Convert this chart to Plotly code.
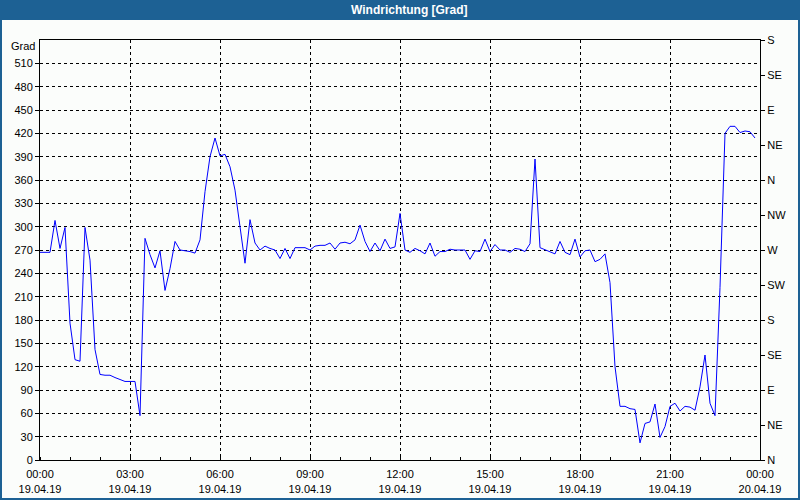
import plotly.graph_objects as go
import pandas as pd

# 10-minute samples, 19.04.19 00:00 .. 23:50
times = pd.date_range("2019-04-19 00:00", periods=144, freq="10min")

wind_dir = [
    267, 267, 267, 308, 272, 299, 176, 129, 127, 299,
    257, 142, 110, 109, 109, 106, 103, 101, 101, 101,
    57, 285, 264, 247, 269, 218, 246, 281, 270, 269,
    268, 266, 283, 345, 390, 414, 391, 393, 377, 347,
    300, 253, 309, 279, 270, 275, 272, 270, 259, 272,
    259, 273, 273, 273, 270, 275, 276, 276, 279, 271,
    279, 280, 278, 283, 302, 281, 268, 279, 269, 284,
    272, 274, 317, 270, 267, 272, 269, 265, 279, 262,
    268, 268, 271, 270, 270, 270, 258, 269, 268, 284,
    268, 277, 270, 270, 267, 272, 271, 268, 278, 387,
    273, 270, 267, 265, 281, 267, 264, 284, 261, 269,
    270, 255, 258, 265, 228, 120, 69, 69, 66, 65,
    22, 47, 49, 72, 29, 43, 69, 73, 63, 69,
    68, 64, 94, 135, 73, 57, 222, 420, 429, 429,
    421, 423, 422, 414,
]

y_ticks = list(range(0, 540, 30))
compass_vals = list(range(0, 541, 45))
compass_labels = ["N", "NE", "E", "SE", "S", "SW", "W", "NW", "N", "NE", "E", "SE", "S"]
x_tickvals = ["2019-04-19 00:00", "2019-04-19 03:00", "2019-04-19 06:00", "2019-04-19 09:00",
              "2019-04-19 12:00", "2019-04-19 15:00", "2019-04-19 18:00", "2019-04-19 21:00",
              "2019-04-20 00:00"]
x_ticktext = ["00:00<br>19.04.19", "03:00<br>19.04.19", "06:00<br>19.04.19", "09:00<br>19.04.19",
              "12:00<br>19.04.19", "15:00<br>19.04.19", "18:00<br>19.04.19", "21:00<br>19.04.19",
              "00:00<br>20.04.19"]

BG = "#fbfdfb"
BLUE_BAR = "#1d6194"
FONT = "Liberation Sans"

fig = go.Figure()
fig.add_trace(go.Scatter(x=times, y=wind_dir, mode="lines",
                         line=dict(color="#0000ff", width=1), showlegend=False))
# invisible trace for the right axis
fig.add_trace(go.Scatter(x=[times[0]], y=[0], yaxis="y2", mode="lines",
                         line=dict(width=0), showlegend=False, hoverinfo="skip"))

W, H = 800, 500
L, R, T, B = 40, 40, 40, 40
pw, ph = W - L - R, H - T - B

def px_x(p):
    return (p - L) / pw

def px_y(p):
    return (H - B - p) / ph

fig.update_layout(
    width=W, height=H,
    margin=dict(l=L, r=R, t=T, b=B, autoexpand=False),
    paper_bgcolor=BG, plot_bgcolor=BG,
    font=dict(family=FONT, size=11, color="black"),
    xaxis=dict(
        type="date",
        range=["2019-04-19 00:00", "2019-04-20 00:00"],
        tickvals=x_tickvals, ticktext=x_ticktext,
        ticks="", showgrid=True, gridcolor="black", griddash="3px,3px", gridwidth=1,
        showline=True, linecolor="black", linewidth=1, mirror=True,
        zeroline=False, tickfont=dict(size=11), ticklabelstandoff=4,
        minor=dict(dtick=3600000, tick0="2019-04-19 00:00", ticks="inside",
                   ticklen=3, tickcolor="black", showgrid=False),
    ),
    yaxis=dict(
        range=[0, 540], tickvals=y_ticks, ticktext=[str(v) for v in y_ticks],
        ticks="outside", ticklen=4, tickcolor="black",
        showgrid=True, gridcolor="black", griddash="3px,3px", gridwidth=1,
        showline=True, linecolor="black", linewidth=1, mirror=True,
        zeroline=False, tickfont=dict(size=11),
    ),
    yaxis2=dict(
        range=[0, 540], overlaying="y", side="right",
        tickvals=compass_vals, ticktext=compass_labels,
        ticks="outside", ticklen=4, tickcolor="black",
        showgrid=False, zeroline=False, showline=True, linecolor="black",
        tickfont=dict(size=11),
    ),
    shapes=[
        dict(type="rect", xref="paper", yref="paper",
             x0=px_x(0), x1=px_x(W), y0=px_y(20), y1=px_y(0),
             fillcolor=BLUE_BAR, line=dict(width=0), layer="above"),
        dict(type="rect", xref="paper", yref="paper",
             x0=px_x(1), x1=px_x(W - 1), y0=px_y(H - 1), y1=px_y(1),
             fillcolor="rgba(0,0,0,0)", line=dict(color=BLUE_BAR, width=2), layer="above"),
    ],
    annotations=[
        dict(text="<b>Windrichtung [Grad]</b>", xref="paper", yref="paper",
             x=px_x(410), y=px_y(10), xanchor="center", yanchor="middle",
             showarrow=False, font=dict(color="white", size=12, family=FONT)),
        dict(text="Grad", xref="paper", yref="paper",
             x=px_x(37), y=px_y(46), xanchor="right", yanchor="middle",
             showarrow=False, font=dict(color="black", size=11, family=FONT)),
    ],
)

fig.write_html("out.html", config={"displayModeBar": False},
               post_script="document.body.style.margin='0';document.body.style.overflow='hidden';")
